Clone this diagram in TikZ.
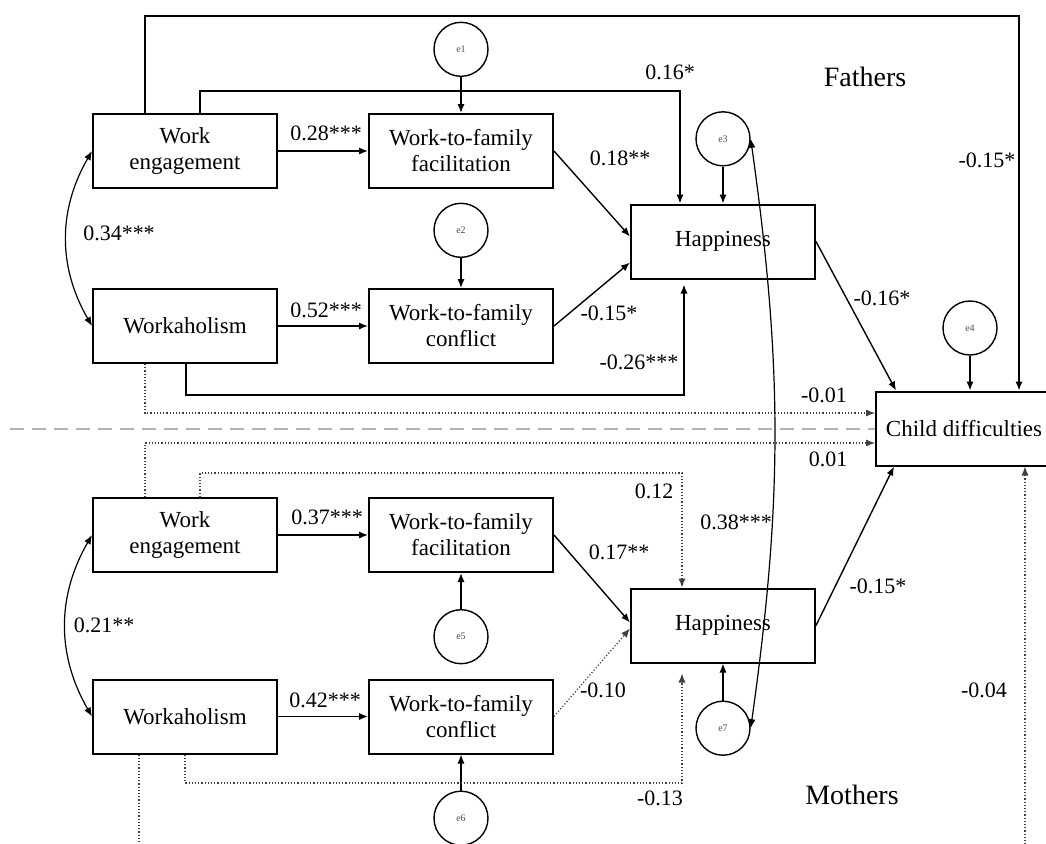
\documentclass[tikz,border=0pt]{standalone}
\usepackage{fontspec}
\setmainfont{Liberation Serif}
\usetikzlibrary{arrows.meta,positioning,calc}

\begin{document}
\begin{tikzpicture}[
    x=0.5pt, y=-0.5pt,
    >={Latex[length=4.5pt,width=3.6pt]},
    var/.style  ={rectangle, draw=black, line width=1pt,
                  minimum width=92pt, minimum height=37pt, align=center,
                  inner sep=1pt, font=\fontsize{11.5}{13}\selectfont},
    err/.style  ={circle, draw=black, line width=0.7pt, minimum size=27pt,
                  inner sep=0pt, font=\fontsize{5}{5}\selectfont, text=black!70},
    flow/.style ={->, line width=0.7pt},
    ns/.style   ={->, line width=0.6pt, densely dotted, black!75},
    cov/.style  ={<->, line width=0.6pt},
    sep/.style  ={draw=black!30, line width=1.1pt, dash pattern=on 7pt off 4pt},
    coef/.style ={font=\fontsize{11}{13}\selectfont, inner sep=0pt},
    group/.style={font=\fontsize{14}{16}\selectfont, inner sep=0pt},
]
\useasboundingbox (0,0) rectangle (1046,843);

% ----------------------------------------------------------------------
%  FATHERS
% ----------------------------------------------------------------------
\node[var] (fwe) at (185,151) {Work\\engagement};
\node[var, right=45pt of fwe] (fwff) {Work-to-family\\facilitation};
\node[var] (fwh) at (185,326) {Workaholism};
\node[var, right=45pt of fwh] (fwfc) {Work-to-family\\conflict};
\node[var] (fhap) at (723,241.5) {Happiness};
\node[var, minimum width=88pt] (cd) at (964,428.5) {Child difficulties};

\node[err, above=18pt of fwff]   (fe1) {e1};
\node[err, above=15pt of fwfc]   (fe2) {e2};
\node[err, above=18.5pt of fhap] (fe3) {e3};
\node[err] (fe4) at (970,328) {e4};

\node[group] (fathers) at (865,77) {Fathers};

\coordinate (ftop) at (1019,16);
\coordinate (f16)  at (680,91);
\coordinate (f26)  at (684,395);

\draw[flow] ($(fwe.north west)+(53,0)$) |- (ftop) -- (ftop |- cd.north);
\draw[flow] ($(fwe.north west)+(108,0)$) |- (f16) -- (f16 |- fhap.north);
\draw[flow] (fe1) -- (fwff);
\draw[flow] (fe2) -- (fwfc);
\draw[flow] (fwe) -- (fwff);
\draw[flow] (fwh) -- (fwfc);
\draw[cov]  (fwe.west) to[bend right=30] (fwh.west);
\draw[flow] (fwff.east) -- ($(fhap.west)+(0,-5)$);
\draw[flow] (fwfc.east) -- ($(fhap.west)+(0,21)$);
\draw[flow, shorten >=2.5pt] ($(fwh.south west)+(94,0)$) |- (f26) -- (f26 |- fhap.south);
\draw[ns]   ($(fwh.south west)+(53,0)$) |- ($(cd.west)+(0,-15.5)$);
\draw[flow] (fe3) -- (fhap);
\draw[flow] (fe4) -- (fe4 |- cd.north);
\draw[flow] (fhap.east) -- ($(cd.north west)+(21,0)$);

\node[coef] (fc1) at (326,133) {0.28***};
\node[coef] (fc2) at (326,310) {0.52***};
\node[coef] (fc3) at (119,233) {0.34***};
\node[coef] (fc4) at (670,72)  {0.16*};
\node[coef] (fc5) at (620,158) {0.18**};
\node[coef] (fc6) at (609,313) {-0.15*};
\node[coef] (fc7) at (639,362) {-0.26***};
\node[coef] (fc8) at (882,298) {-0.16*};
\node[coef] (fc9) at (987,160) {-0.15*};
\node[coef] (fc10) at (824,395) {-0.01};

% separator between the two groups
\coordinate (sepl) at (10,429);
\draw[sep] (sepl) -- (sepl -| cd.west);

% ----------------------------------------------------------------------
%  MOTHERS
% ----------------------------------------------------------------------
\node[var] (mwe) at (185,535) {Work\\engagement};
\node[var, right=45pt of mwe] (mwff) {Work-to-family\\facilitation};
\node[var] (mwh) at (185,716.5) {Workaholism};
\node[var, right=45pt of mwh] (mwfc) {Work-to-family\\conflict};
\node[var] (mhap) at (723,625.5) {Happiness};

\node[err, below=18pt of mwff]   (me5) {e5};
\node[err, below=18pt of mwfc]   (me6) {e6};
\node[err, below=18.5pt of mhap] (me7) {e7};

\node[group] (mothers) at (852,795) {Mothers};

\coordinate (m12) at (682,473);
\coordinate (m13) at (682,783);
\coordinate (m04) at (1025,870);

\draw[ns]   ($(mwe.north west)+(53,0)$) |- ($(cd.west)+(0,14.5)$);
\draw[ns]   ($(mwe.north west)+(108,0)$) |- (m12) -- (m12 |- mhap.north);
\draw[flow] (mwe) -- (mwff);
\draw[flow] (mwh) -- (mwfc);
\draw[flow] (me5) -- (mwff);
\draw[flow] (me6) -- (mwfc);
\draw[cov]  (mwe.west) to[bend right=30] (mwh.west);
\draw[flow] (mwff.east) -- ($(mhap.west)+(0,-3)$);
\draw[ns]   (mwfc.east) -- ($(mhap.west)+(0,3)$);
\draw[ns, shorten >=5pt] ($(mwh.south west)+(93,0)$) |- (m13) -- (m13 |- mhap.south);
\draw[flow] (me7) -- (mhap);
\draw[flow] (mhap.east) -- ($(cd.south west)+(19,0)$);
\draw[ns]   ($(mwh.south west)+(47,0)$) |- (m04) -- (m04 |- cd.south);

% residual covariance e3 <-> e7
\draw[cov] (fe3.east) to[bend left=8] (me7.east);

\node[coef] (mc1) at (327,517) {0.37***};
\node[coef] (mc2) at (325,700) {0.42***};
\node[coef] (mc3) at (104,625) {0.21**};
\node[coef] (mc4) at (654,491) {0.12};
\node[coef] (mc5) at (619,552) {0.17**};
\node[coef] (mc6) at (603,690) {-0.10};
\node[coef] (mc7) at (660,798) {-0.13};
\node[coef] (mc8) at (878,586) {-0.15*};
\node[coef] (mc9) at (984,690) {-0.04};
\node[coef] (mc10) at (828,459) {0.01};
\node[coef] (mc11) at (736,522) {0.38***};

\end{tikzpicture}
\end{document}
